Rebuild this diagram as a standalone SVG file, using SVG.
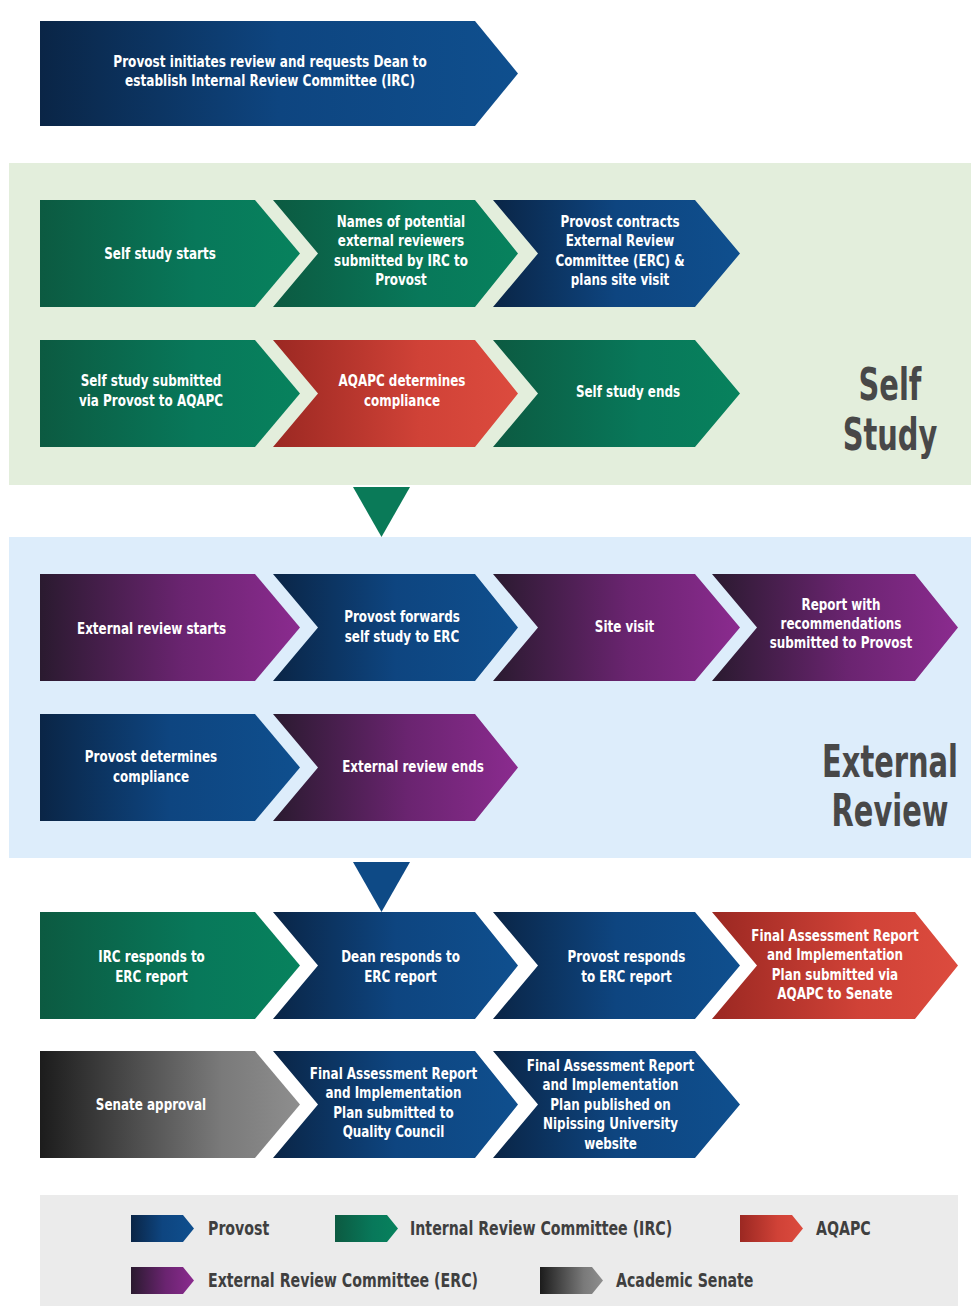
<svg xmlns="http://www.w3.org/2000/svg" width="971" height="1306" viewBox="0 0 971 1306">
<defs>
<linearGradient id="gProvost" x1="0" y1="0" x2="1" y2="0">
<stop offset="0" stop-color="#0a2546"/><stop offset="0.5" stop-color="#0e4580"/><stop offset="1" stop-color="#0f4f8e"/>
</linearGradient>
<linearGradient id="gIRC" x1="0" y1="0" x2="1" y2="0">
<stop offset="0" stop-color="#0c5a41"/><stop offset="0.6" stop-color="#08785a"/><stop offset="1" stop-color="#07825d"/>
</linearGradient>
<linearGradient id="gAQAPC" x1="0" y1="0" x2="1" y2="0">
<stop offset="0" stop-color="#9b2822"/><stop offset="0.6" stop-color="#d04237"/><stop offset="1" stop-color="#dc4b3e"/>
</linearGradient>
<linearGradient id="gERC" x1="0" y1="0" x2="1" y2="0">
<stop offset="0" stop-color="#2a1a2f"/><stop offset="0.55" stop-color="#6a2470"/><stop offset="1" stop-color="#8b2b8f"/>
</linearGradient>
<linearGradient id="gSenate" x1="0" y1="0" x2="1" y2="0">
<stop offset="0" stop-color="#1c1c1c"/><stop offset="0.7" stop-color="#7a7a7a"/><stop offset="1" stop-color="#8e8e8e"/>
</linearGradient>
</defs>
<style>
.t{font-family:"DejaVu Sans Condensed","Liberation Sans Narrow","Liberation Sans",sans-serif;font-weight:bold;font-size:16px;fill:#ffffff;text-anchor:middle}
.sec{font-family:"DejaVu Sans Condensed","Liberation Sans Narrow","Liberation Sans",sans-serif;font-weight:bold;font-size:44px;fill:#484848;text-anchor:middle}
.lg{font-family:"DejaVu Sans Condensed","Liberation Sans Narrow","Liberation Sans",sans-serif;font-weight:bold;font-size:19px;fill:#3f3f3f}
.prov{fill:url(#gProvost)}
.irc{fill:url(#gIRC)}
.aq{fill:url(#gAQAPC)}
.erc{fill:url(#gERC)}
.sen{fill:url(#gSenate)}
</style>
<rect x="0" y="0" width="971" height="1306" fill="#ffffff"/>
<!-- section bands -->
<rect id="band-self-study" x="9" y="163" width="962" height="322" fill="#e3eedc"/>
<rect id="band-external-review" x="9" y="537" width="962" height="321" fill="#ddedfb"/>
<rect id="legend-box" x="40" y="1195" width="918" height="111" fill="#ebebeb"/>

<g transform="translate(890 0) scale(0.73 1)">
<text class="sec" x="0" y="400">Self</text>
<text class="sec" x="0" y="450">Study</text>
</g>
<g transform="translate(890 0) scale(0.73 1)">
<text class="sec" x="0" y="777">External</text>
<text class="sec" x="0" y="826">Review</text>
</g>

<g id="connectors">
<polygon points="353,487 410,487 381.5,537" fill="#0a7a58"/>
<polygon points="353,862 410,862 381.5,912" fill="#0e4a86"/>
</g>

<!-- top -->
<g id="n-initiate">
<path class="prov" d="M40,21 H475 L518,73.5 L475,126 H40 Z"/>
<g transform="translate(270 0) scale(0.84 1)">
<text class="t" x="0" y="67">Provost initiates review and requests Dean to</text>
<text class="t" x="0" y="86">establish Internal Review Committee (IRC)</text>
</g>
</g>

<!-- Row A: y 200-307 -->
<g id="n-self-start">
<path class="irc" d="M40,200 H255 L300,253.5 L255,307 H40 Z"/>
<g transform="translate(160 0) scale(0.83 1)">
<text class="t" x="0" y="259">Self study starts</text>
</g>
</g>
<g id="n-names">
<path class="irc" d="M273,200 H475 L518,253.5 L475,307 H273 L318,253.5 Z"/>
<g transform="translate(401 0) scale(0.83 1)">
<text class="t" x="0" y="227">Names of potential</text>
<text class="t" x="0" y="246.5">external reviewers</text>
<text class="t" x="0" y="266">submitted by IRC to</text>
<text class="t" x="0" y="285.5">Provost</text>
</g>
</g>
<g id="n-contracts">
<path class="prov" d="M493,200 H695 L740,253.5 L695,307 H493 L538,253.5 Z"/>
<g transform="translate(620 0) scale(0.83 1)">
<text class="t" x="0" y="227">Provost contracts</text>
<text class="t" x="0" y="246.5">External Review</text>
<text class="t" x="0" y="266">Committee (ERC) &amp;</text>
<text class="t" x="0" y="285.5">plans site visit</text>
</g>
</g>

<!-- Row B: y 340-447 -->
<g id="n-submitted">
<path class="irc" d="M40,340 H255 L300,393.5 L255,447 H40 Z"/>
<g transform="translate(151 0) scale(0.83 1)">
<text class="t" x="0" y="386">Self study submitted</text>
<text class="t" x="0" y="406">via Provost to AQAPC</text>
</g>
</g>
<g id="n-aqapc-compliance">
<path class="aq" d="M273,340 H475 L518,393.5 L475,447 H273 L318,393.5 Z"/>
<g transform="translate(402 0) scale(0.83 1)">
<text class="t" x="0" y="386">AQAPC determines</text>
<text class="t" x="0" y="406">compliance</text>
</g>
</g>
<g id="n-self-end">
<path class="irc" d="M493,340 H695 L740,393.5 L695,447 H493 L538,393.5 Z"/>
<g transform="translate(628 0) scale(0.83 1)">
<text class="t" x="0" y="397">Self study ends</text>
</g>
</g>

<!-- Row C: y 574-681 -->
<g id="n-ext-start">
<path class="erc" d="M40,574 H255 L300,627.5 L255,681 H40 Z"/>
<g transform="translate(151.5 0) scale(0.83 1)">
<text class="t" x="0" y="634">External review starts</text>
</g>
</g>
<g id="n-forwards">
<path class="prov" d="M273,574 H475 L518,627.5 L475,681 H273 L318,627.5 Z"/>
<g transform="translate(402 0) scale(0.83 1)">
<text class="t" x="0" y="622">Provost forwards</text>
<text class="t" x="0" y="642">self study to ERC</text>
</g>
</g>
<g id="n-site-visit">
<path class="erc" d="M493,574 H695 L740,627.5 L695,681 H493 L538,627.5 Z"/>
<g transform="translate(624.5 0) scale(0.83 1)">
<text class="t" x="0" y="632">Site visit</text>
</g>
</g>
<g id="n-report">
<path class="erc" d="M712,574 H915 L958,627.5 L915,681 H712 L757,627.5 Z"/>
<g transform="translate(841 0) scale(0.83 1)">
<text class="t" x="0" y="610">Report with</text>
<text class="t" x="0" y="629">recommendations</text>
<text class="t" x="0" y="648">submitted to Provost</text>
</g>
</g>

<!-- Row D: y 714-821 -->
<g id="n-provost-compliance">
<path class="prov" d="M40,714 H255 L300,767.5 L255,821 H40 Z"/>
<g transform="translate(151 0) scale(0.83 1)">
<text class="t" x="0" y="762">Provost determines</text>
<text class="t" x="0" y="782">compliance</text>
</g>
</g>
<g id="n-ext-end">
<path class="erc" d="M273,714 H475 L518,767.5 L475,821 H273 L318,767.5 Z"/>
<g transform="translate(413 0) scale(0.83 1)">
<text class="t" x="0" y="772">External review ends</text>
</g>
</g>

<!-- Row E: y 912-1019 -->
<g id="n-irc-responds">
<path class="irc" d="M40,912 H255 L300,965.5 L255,1019 H40 Z"/>
<g transform="translate(151.5 0) scale(0.83 1)">
<text class="t" x="0" y="962">IRC responds to</text>
<text class="t" x="0" y="982">ERC report</text>
</g>
</g>
<g id="n-dean-responds">
<path class="prov" d="M273,912 H475 L518,965.5 L475,1019 H273 L318,965.5 Z"/>
<g transform="translate(400.5 0) scale(0.83 1)">
<text class="t" x="0" y="962">Dean responds to</text>
<text class="t" x="0" y="982">ERC report</text>
</g>
</g>
<g id="n-provost-responds">
<path class="prov" d="M493,912 H695 L740,965.5 L695,1019 H493 L538,965.5 Z"/>
<g transform="translate(626.5 0) scale(0.83 1)">
<text class="t" x="0" y="962">Provost responds</text>
<text class="t" x="0" y="982">to ERC report</text>
</g>
</g>
<g id="n-far-senate">
<path class="aq" d="M712,912 H915 L958,965.5 L915,1019 H712 L757,965.5 Z"/>
<g transform="translate(835 0) scale(0.83 1)">
<text class="t" x="0" y="941">Final Assessment Report</text>
<text class="t" x="0" y="960.5">and Implementation</text>
<text class="t" x="0" y="980">Plan submitted via</text>
<text class="t" x="0" y="999.5">AQAPC to Senate</text>
</g>
</g>

<!-- Row F: y 1051-1158 -->
<g id="n-senate-approval">
<path class="sen" d="M40,1051 H255 L300,1104.5 L255,1158 H40 Z"/>
<g transform="translate(151 0) scale(0.83 1)">
<text class="t" x="0" y="1110">Senate approval</text>
</g>
</g>
<g id="n-quality-council">
<path class="prov" d="M273,1051 H475 L518,1104.5 L475,1158 H273 L318,1104.5 Z"/>
<g transform="translate(393.5 0) scale(0.83 1)">
<text class="t" x="0" y="1079">Final Assessment Report</text>
<text class="t" x="0" y="1098.5">and Implementation</text>
<text class="t" x="0" y="1118">Plan submitted to</text>
<text class="t" x="0" y="1137.5">Quality Council</text>
</g>
</g>
<g id="n-published">
<path class="prov" d="M493,1051 H695 L740,1104.5 L695,1158 H493 L538,1104.5 Z"/>
<g transform="translate(610.5 0) scale(0.83 1)">
<text class="t" x="0" y="1071">Final Assessment Report</text>
<text class="t" x="0" y="1090.5">and Implementation</text>
<text class="t" x="0" y="1110">Plan published on</text>
<text class="t" x="0" y="1129.5">Nipissing University</text>
<text class="t" x="0" y="1149">website</text>
</g>
</g>

<!-- legend -->
<g id="legend">
<path class="prov" d="M131,1215 H183 L194,1228.5 L183,1242 H131 Z"/>
<text class="lg" transform="translate(208 1235) scale(0.83 1)">Provost</text>
<path class="irc" d="M335,1215 H387 L398,1228.5 L387,1242 H335 Z"/>
<text class="lg" transform="translate(410 1235) scale(0.83 1)">Internal Review Committee (IRC)</text>
<path class="aq" d="M740,1215 H792 L803,1228.5 L792,1242 H740 Z"/>
<text class="lg" transform="translate(816 1235) scale(0.83 1)">AQAPC</text>
<path class="erc" d="M131,1267 H183 L194,1280.5 L183,1294 H131 Z"/>
<text class="lg" transform="translate(208 1287) scale(0.83 1)">External Review Committee (ERC)</text>
<path class="sen" d="M540,1267 H592 L603,1280.5 L592,1294 H540 Z"/>
<text class="lg" transform="translate(616 1287) scale(0.83 1)">Academic Senate</text>
</g>
</svg>
